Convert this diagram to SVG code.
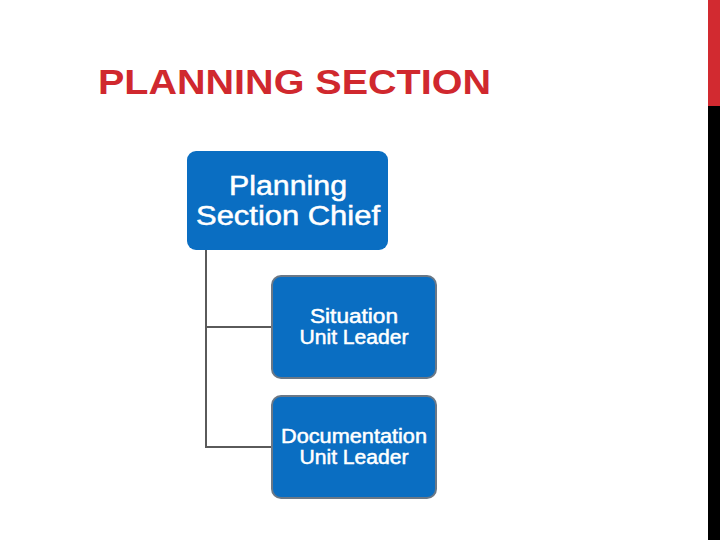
<svg xmlns="http://www.w3.org/2000/svg" width="720" height="540" viewBox="0 0 720 540">
<style>
.box{fill:#0a6ec2;}
.sub{stroke:#6b7886;stroke-width:2;}
.t{font-family:"Liberation Sans",Arial,sans-serif;fill:#ffffff;text-anchor:middle;stroke:#ffffff;stroke-width:0.5;}
.conn{stroke:#5a5a5a;stroke-width:2;fill:none;}
</style>
<rect width="720" height="540" fill="#ffffff"/>
<rect x="708" y="0" width="12" height="106" fill="#d22a30"/>
<rect x="708" y="106" width="12" height="434" fill="#000000"/>
<text x="98" y="94" font-family="'Liberation Sans',Arial,sans-serif" font-weight="bold" font-size="35" fill="#d0282e" textLength="393" lengthAdjust="spacingAndGlyphs">PLANNING SECTION</text>
<g id="connectors">
<path class="conn" d="M206 250 V447 H272 M206 327 H272"/>
</g>
<g id="chief">
<rect class="box" x="187" y="151" width="201" height="99" rx="9"/>
<text class="t" x="288" y="195" font-size="27" textLength="118" lengthAdjust="spacingAndGlyphs">Planning</text>
<text class="t" x="288" y="225" font-size="27" textLength="184" lengthAdjust="spacingAndGlyphs">Section Chief</text>
</g>
<g id="situation">
<rect class="box sub" x="272" y="276" width="164" height="102" rx="9"/>
<text class="t" x="354" y="323" font-size="20" textLength="88" lengthAdjust="spacingAndGlyphs">Situation</text>
<text class="t" x="354" y="344" font-size="20" textLength="109" lengthAdjust="spacingAndGlyphs">Unit Leader</text>
</g>
<g id="documentation">
<rect class="box sub" x="272" y="396" width="164" height="102" rx="9"/>
<text class="t" x="354" y="443" font-size="20" textLength="146" lengthAdjust="spacingAndGlyphs">Documentation</text>
<text class="t" x="354" y="464" font-size="20" textLength="109" lengthAdjust="spacingAndGlyphs">Unit Leader</text>
</g>
</svg>
